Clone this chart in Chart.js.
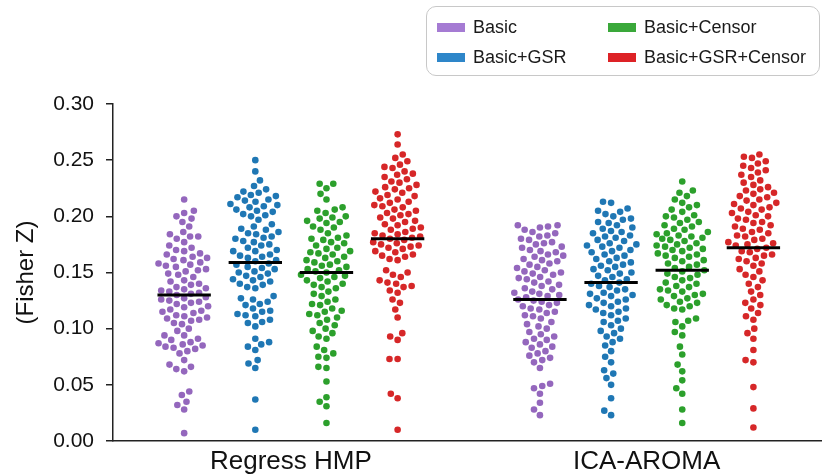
<!DOCTYPE html>
<html>
<head>
<meta charset="utf-8">
<script src="https://cdn.jsdelivr.net/npm/chart.js@4.4.1/dist/chart.umd.min.js"></script>
<style>
body{margin:0;background:#fff;}
#wrap{position:relative;width:825px;height:474px;}
#legend{position:absolute;left:426px;top:6px;width:394px;height:70px;border:1px solid #c8c8c8;border-radius:10px;box-sizing:border-box;font-family:"Liberation Sans",Arial,sans-serif;font-size:18px;color:#1a1a1a;}
.item{position:absolute;display:flex;align-items:center;height:20px;white-space:nowrap;}
.sw{width:28px;height:9px;margin-right:8px;}
</style>
</head>
<body>
<div id="wrap">
<canvas id="myChart" width="825" height="474"></canvas>
<div id="legend">
  <div class="item" style="left:10px;top:10px"><span class="sw" style="background:#a57bd3"></span>Basic</div>
  <div class="item" style="left:10px;top:40px"><span class="sw" style="background:#2e86c9"></span>Basic+GSR</div>
  <div class="item" style="left:181px;top:10px"><span class="sw" style="background:#3aa83a"></span>Basic+Censor</div>
  <div class="item" style="left:181px;top:40px"><span class="sw" style="background:#dd2226"></span>Basic+GSR+Censor</div>
</div>
</div>
<script>
const categories = ["Regress HMP", "ICA-AROMA"];
const seriesNames = ["Basic", "Basic+GSR", "Basic+Censor", "Basic+GSR+Censor"];
const seriesColors = ["#9467bd", "#1f77b4", "#2ca02c", "#d62728"];

// values per subject
const hmpBasic = [0.215,0.205,0.203,0.200,0.198,0.195,0.191,0.186,0.184,0.182,0.182,0.180,0.177,0.174,0.172,0.170,0.169,0.167,0.166,0.164,0.163,0.162,0.161,0.159,0.158,0.157,0.156,0.155,0.153,0.152,0.151,0.149,0.148,0.146,0.143,0.142,0.140,0.139,0.137,0.136,0.135,0.134,0.133,0.132,0.131,0.130,0.128,0.127,0.126,0.125,0.124,0.123,0.122,0.120,0.119,0.117,0.116,0.115,0.114,0.112,0.111,0.110,0.109,0.108,0.107,0.105,0.104,0.100,0.098,0.094,0.094,0.091,0.090,0.088,0.087,0.086,0.085,0.084,0.083,0.082,0.080,0.078,0.072,0.068,0.066,0.064,0.062,0.044,0.041,0.035,0.032,0.028,0.007];
const hmpGsr = [0.250,0.240,0.232,0.227,0.224,0.222,0.221,0.219,0.218,0.217,0.215,0.214,0.213,0.211,0.210,0.209,0.208,0.206,0.205,0.204,0.202,0.201,0.200,0.197,0.193,0.191,0.189,0.188,0.186,0.185,0.184,0.182,0.181,0.180,0.178,0.177,0.175,0.174,0.172,0.170,0.169,0.169,0.166,0.165,0.164,0.163,0.161,0.160,0.158,0.157,0.155,0.154,0.153,0.151,0.150,0.149,0.147,0.146,0.144,0.143,0.142,0.140,0.139,0.137,0.136,0.129,0.127,0.126,0.124,0.122,0.121,0.118,0.116,0.115,0.113,0.112,0.111,0.108,0.106,0.105,0.102,0.091,0.088,0.086,0.084,0.081,0.072,0.069,0.065,0.037,0.010];
const hmpCensor = [0.229,0.229,0.225,0.220,0.215,0.208,0.206,0.205,0.203,0.200,0.199,0.198,0.196,0.195,0.194,0.191,0.190,0.188,0.185,0.183,0.181,0.180,0.179,0.177,0.176,0.174,0.172,0.171,0.169,0.168,0.167,0.166,0.164,0.163,0.161,0.160,0.159,0.157,0.156,0.155,0.153,0.152,0.151,0.150,0.148,0.147,0.146,0.145,0.143,0.142,0.140,0.139,0.137,0.136,0.133,0.131,0.129,0.126,0.124,0.122,0.121,0.118,0.116,0.115,0.113,0.112,0.110,0.108,0.105,0.103,0.100,0.098,0.096,0.093,0.091,0.084,0.081,0.078,0.075,0.074,0.066,0.065,0.053,0.039,0.035,0.031,0.016];
const hmpGsrCensor = [0.273,0.264,0.255,0.252,0.249,0.246,0.244,0.243,0.240,0.238,0.237,0.235,0.233,0.231,0.230,0.228,0.226,0.225,0.224,0.222,0.221,0.219,0.218,0.216,0.215,0.213,0.212,0.210,0.209,0.208,0.206,0.205,0.203,0.202,0.201,0.199,0.198,0.196,0.195,0.193,0.192,0.190,0.189,0.188,0.186,0.185,0.184,0.183,0.182,0.181,0.180,0.179,0.177,0.176,0.175,0.174,0.173,0.172,0.171,0.169,0.168,0.166,0.165,0.164,0.162,0.161,0.152,0.150,0.148,0.146,0.143,0.141,0.140,0.138,0.137,0.134,0.132,0.126,0.123,0.117,0.110,0.096,0.093,0.090,0.073,0.073,0.042,0.038,0.010];

const icaBasic = [0.192,0.192,0.191,0.190,0.188,0.186,0.185,0.183,0.182,0.180,0.179,0.177,0.176,0.175,0.173,0.172,0.170,0.169,0.168,0.166,0.165,0.164,0.162,0.161,0.160,0.158,0.157,0.155,0.154,0.152,0.151,0.150,0.149,0.148,0.146,0.145,0.144,0.142,0.141,0.139,0.138,0.136,0.135,0.133,0.132,0.131,0.130,0.129,0.128,0.126,0.125,0.124,0.123,0.121,0.120,0.118,0.117,0.115,0.114,0.112,0.111,0.109,0.106,0.104,0.102,0.100,0.097,0.095,0.093,0.091,0.090,0.088,0.086,0.084,0.083,0.080,0.078,0.076,0.074,0.072,0.070,0.065,0.051,0.049,0.047,0.042,0.034,0.028,0.023];
const icaGsr = [0.213,0.212,0.207,0.205,0.204,0.202,0.200,0.198,0.197,0.195,0.194,0.192,0.190,0.189,0.187,0.186,0.185,0.183,0.182,0.181,0.179,0.178,0.176,0.175,0.174,0.173,0.172,0.170,0.169,0.168,0.166,0.165,0.163,0.162,0.160,0.159,0.157,0.156,0.155,0.153,0.152,0.150,0.149,0.147,0.146,0.144,0.143,0.141,0.140,0.138,0.137,0.135,0.134,0.132,0.131,0.130,0.129,0.127,0.126,0.124,0.123,0.121,0.120,0.118,0.117,0.115,0.114,0.112,0.109,0.107,0.106,0.103,0.100,0.098,0.096,0.093,0.091,0.088,0.085,0.080,0.075,0.070,0.063,0.060,0.056,0.050,0.038,0.027,0.023];
const icaCensor = [0.231,0.223,0.221,0.218,0.215,0.212,0.210,0.208,0.206,0.204,0.201,0.200,0.199,0.197,0.195,0.194,0.192,0.191,0.189,0.188,0.186,0.185,0.184,0.183,0.182,0.181,0.180,0.179,0.178,0.176,0.175,0.174,0.173,0.172,0.171,0.170,0.169,0.167,0.166,0.165,0.164,0.163,0.161,0.160,0.158,0.157,0.155,0.154,0.152,0.151,0.149,0.148,0.146,0.145,0.143,0.141,0.140,0.138,0.137,0.135,0.134,0.133,0.131,0.130,0.129,0.127,0.126,0.124,0.123,0.121,0.120,0.118,0.117,0.109,0.107,0.106,0.102,0.097,0.094,0.084,0.077,0.068,0.062,0.054,0.047,0.042,0.028,0.016];
const icaGsrCensor = [0.255,0.253,0.252,0.249,0.247,0.245,0.243,0.241,0.239,0.237,0.235,0.232,0.230,0.228,0.226,0.224,0.223,0.221,0.220,0.218,0.217,0.215,0.214,0.212,0.211,0.210,0.208,0.207,0.206,0.204,0.203,0.201,0.200,0.198,0.197,0.195,0.194,0.192,0.191,0.189,0.188,0.186,0.185,0.183,0.182,0.180,0.179,0.177,0.176,0.175,0.174,0.172,0.171,0.169,0.168,0.166,0.165,0.163,0.162,0.160,0.158,0.156,0.153,0.151,0.148,0.146,0.143,0.140,0.137,0.133,0.130,0.126,0.123,0.121,0.118,0.114,0.111,0.108,0.100,0.096,0.091,0.081,0.072,0.070,0.048,0.029,0.012];

// group means (black bars)
const hmpMeans = [0.130, 0.159, 0.150, 0.180];
const icaMeans = [0.126, 0.141, 0.152, 0.172];

const yTicks = [0, 0.05, 0.10, 0.15, 0.20, 0.25, 0.30];

const groups = [
  [hmpBasic, hmpGsr, hmpCensor, hmpGsrCensor],
  [icaBasic, icaGsr, icaCensor, icaGsrCensor]
];
const means = [hmpMeans, icaMeans];

const dodge = [-0.3, -0.1, 0.1, 0.3];
const maxW = 0.072;
const barHalf = 0.075;

// swarm layout: each point goes as close to the centre as it can without
// touching points already placed (sideways offsets only, values untouched)
function swarm(vals) {
  const xs = 358, ys = 1123, dmin = 8.2;
  let order = vals.map((v, i) => i).sort((a, b) => vals[a] - vals[b]);
  let placed = [];
  let offs = new Array(vals.length).fill(0);
  order.forEach(i => {
    let y = vals[i] * ys;
    let near = placed.filter(p => Math.abs(p.y - y) < dmin);
    let cands = [0];
    near.forEach(p => {
      let dx = Math.sqrt(dmin * dmin - (p.y - y) * (p.y - y));
      cands.push(p.x + dx, p.x - dx);
    });
    cands.sort((a, b) => Math.abs(a) - Math.abs(b) || a - b);
    let pick = null;
    for (const cx of cands) {
      if (Math.abs(cx) > maxW * xs) continue;
      let ok = near.every(p => (p.x - cx) ** 2 + (p.y - y) ** 2 >= dmin * dmin - 0.01);
      if (ok) { pick = cx; break; }
    }
    if (pick === null) {
      // too crowded: take the slot with the most room
      let bestD = -1;
      for (let k = -10; k <= 10; k++) {
        let cx = k / 10 * maxW * xs;
        let d = Math.min(...near.map(p => (p.x - cx) ** 2 + (p.y - y) ** 2));
        if (d > bestD) { bestD = d; pick = cx; }
      }
    }
    placed.push({x: pick, y: y});
    offs[i] = pick / xs;
  });
  return offs;
}

let datasets = [];
groups.forEach((grp, c) => {
  grp.forEach((vals, s) => {
    let offs = swarm(vals);
    let pts = vals.map((v, i) => ({x: c + dodge[s] + offs[i], y: v}));
    datasets.push({
      label: seriesNames[s],
      data: pts,
      backgroundColor: seriesColors[s],
      borderWidth: 0,
      pointRadius: 3.3,
      order: 1
    });
  });
  means[c].forEach((m, s) => {
    datasets.push({
      data: [{x: c + dodge[s] - barHalf, y: m}, {x: c + dodge[s] + barHalf, y: m}],
      showLine: true,
      borderColor: "#000",
      borderWidth: 3,
      pointRadius: 0,
      order: 0
    });
  });
});

Chart.defaults.font.family = '"Liberation Sans", Arial, sans-serif';
Chart.defaults.color = "#1a1a1a";

new Chart(document.getElementById("myChart"), {
  type: "scatter",
  data: {datasets: datasets},
  options: {
    responsive: false,
    animation: false,
    layout: {padding: {top: 104, right: 0, left: 0, bottom: 0}},
    plugins: {legend: {display: false}, tooltip: {enabled: false}},
    scales: {
      x: {
        type: "linear",
        min: -0.5,
        max: 1.49,
        afterBuildTicks: (scale) => { scale.ticks = [{value: 0}, {value: 1}]; },
        afterFit: (scale) => { scale.height = 33; },
        ticks: {
          font: {size: 26, lineHeight: 1.0},
          padding: 0,
          color: "#111",
          callback: (v) => categories[v]
        },
        grid: {display: false},
        border: {color: "#222", width: 1.5}
      },
      y: {
        min: 0,
        max: 0.30,
        afterBuildTicks: (scale) => { scale.ticks = yTicks.map(v => ({value: v})); },
        afterFit: (scale) => { scale.width = 113; },
        ticks: {
          font: {size: 21},
          padding: 12,
          color: "#111",
          callback: (v) => v.toFixed(2)
        },
        grid: {drawOnChartArea: false, tickLength: 7, color: "#222", lineWidth: 1.5},
        border: {color: "#222", width: 1.5},
        title: {display: true, text: "(Fisher Z)", font: {size: 24}, color: "#111", padding: {top: 12, bottom: 0}}
      }
    }
  }
});
</script>
</body>
</html>
